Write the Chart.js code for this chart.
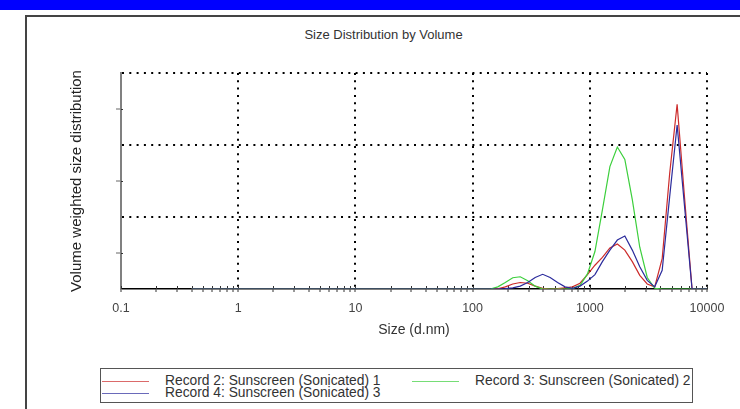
<!DOCTYPE html>
<html><head><meta charset="utf-8">
<script src="https://cdn.jsdelivr.net/npm/chart.js@4.4.0/dist/chart.umd.min.js"></script>
<style>
html,body{margin:0;padding:0;background:#fff;width:740px;height:409px;overflow:hidden;font-family:"Liberation Sans",Arial,sans-serif;}
#bar{position:absolute;left:0;top:0;width:740px;height:10px;background:#0000ff;}
#frame{position:absolute;left:25px;top:15px;width:740px;height:420px;border-left:2px solid #444;border-top:2px solid #444;}
#title{position:absolute;left:27px;width:713px;top:27px;text-align:center;font-size:13px;line-height:16px;color:#333;}
#c{position:absolute;left:0;top:0;}
#legend{position:absolute;left:100px;top:368px;width:591px;height:33px;border:1px solid #555;background:#fff;}
.li{position:absolute;height:14px;}
.ls{position:absolute;left:0;top:7px;width:47px;height:1px;}
.lt{position:absolute;top:0;font-size:13.8px;line-height:14px;color:#333;white-space:nowrap;}
</style></head>
<body>
<div id="bar"></div>
<div id="frame"></div>
<div id="title">Size Distribution by Volume</div>
<canvas id="c" width="740" height="409"></canvas>
<div id="legend"></div>
<script>
// ---- data ----
const sizes = [0.4,0.4632,0.5365,0.6213,0.7195,0.8332,0.9649,1.117,1.294,1.499,1.736,2.01,2.328,2.696,3.122,3.615,4.187,4.849,5.615,6.503,7.531,8.721,10.1,11.7,13.54,15.69,18.17,21.04,24.36,28.21,32.67,37.84,43.82,50.75,58.77,68.06,78.82,91.28,105.7,122.4,141.8,164.2,190.1,220.2,255,295.3,342,396.1,458.7,531.2,615.1,712.4,825,955.4,1106,1281,1484,1718,1990,2305,2669,3091,3580,4145,4801,5560,6439,7456,8635,10000];
const record2 = [0,0,0,0,0,0,0,0,0,0,0,0,0,0,0,0,0,0,0,0,0,0,0,0,0,0,0,0,0,0,0,0,0,0,0,0,0,0,0,0,0,
  0.02,0.15,0.35,0.45,0.4,0.2,0.04,0,0.02,0.08,0.15,0.4,1.0,1.65,2.2,2.85,3.12,2.7,1.9,0.95,0.35,0.15,2.1,8.0,12.83,6.3,0,0,0];
const record3 = [0,0,0,0,0,0,0,0,0,0,0,0,0,0,0,0,0,0,0,0,0,0,0,0,0,0,0,0,0,0,0,0,0,0,0,0,0,0,0,0,0,
  0.15,0.45,0.78,0.85,0.58,0.2,0,0,0,0,0.03,0.25,1.05,2.6,5.5,8.5,9.86,9.0,6.2,2.9,0.8,0.05,0,0,0,0,0,0,0];
const record4 = [0,0,0,0,0,0,0,0,0,0,0,0,0,0,0,0,0,0,0,0,0,0,0,0,0,0,0,0,0,0,0,0,0,0,0,0,0,0,0,0,0,
  0,0.02,0.08,0.2,0.45,0.8,1.02,0.8,0.45,0.15,0.05,0.2,0.55,1.0,1.9,2.7,3.4,3.68,2.7,1.55,0.6,0.15,1.3,6.4,11.39,5.7,0,0,0];
const seriesNames = ['Record 2: Sunscreen (Sonicated) 1','Record 3: Sunscreen (Sonicated) 2','Record 4: Sunscreen (Sonicated) 3'];
const seriesValues = [record2, record3, record4];
const seriesColors = ['#cc2b2b','#3ccf3c','#2b2b9c'];
const xTickValues = [0.1,1,10,100,1000,10000];
const xTickLabels = ['0.1','1','10','100','1000','10000'];
const yMajorStep = 5, yMinorStep = 2.5, yMax = 15;

// ---- derived ----
const xTicks = [];
for (let i = 0; i < xTickValues.length - 1; i++) for (let m = 1; m <= 9; m++) xTicks.push(m * xTickValues[i]);
xTicks.push(xTickValues[xTickValues.length - 1]);
const decadeIndex = v => xTickValues.findIndex(t => Math.abs(t - v) / t < 1e-9);
const isMajorY = v => Math.abs(v / yMajorStep - Math.round(v / yMajorStep)) < 1e-9;
const CLEAR = 'rgba(0,0,0,0)';

Chart.defaults.font.family = '"Liberation Sans", Arial, sans-serif';
const crossTicks = {
  id: 'crossTicks',
  beforeDatasetsDraw(chart) {
    const x = chart.scales.x, y = chart.scales.y, ctx = chart.ctx, y0 = chart.chartArea.bottom, x0 = chart.chartArea.left;
    ctx.save(); ctx.strokeStyle = '#333'; ctx.lineWidth = 1; ctx.beginPath();
    x.ticks.forEach(t => { const px = Math.round(x.getPixelForValue(t.value)) + 0.5; ctx.moveTo(px, y0 - 3); ctx.lineTo(px, y0); });
    y.ticks.forEach(t => { if (!isMajorY(t.value)) { const py = Math.round(y.getPixelForValue(t.value)) + 0.5; ctx.moveTo(x0, py); ctx.lineTo(x0 + 2, py); } });
    ctx.stroke(); ctx.restore();
  }
};

new Chart(document.getElementById('c'), {
  type: 'line',
  data: {
    datasets: seriesValues.map((vals, i) => ({
      label: seriesNames[i],
      data: sizes.map((s, k) => ({x: s, y: vals[k]})),
      borderColor: seriesColors[i], borderWidth: 1.2, pointRadius: 0, tension: 0, fill: false,
      order: [2, 1, 0][i]
    }))
  },
  options: {
    responsive: false, animation: false, devicePixelRatio: 1,
    layout: {padding: {top: 73, left: 0, right: 33, bottom: 60}},
    plugins: {legend: {display: false}, title: {display: false}, tooltip: {enabled: false}},
    scales: {
      x: {
        type: 'logarithmic', min: xTickValues[0], max: xTickValues[xTickValues.length - 1],
        afterBuildTicks: s => { s.ticks = xTicks.map(v => ({value: v})); },
        afterFit: s => { s.height = 60; s.paddingLeft = 0; s.paddingRight = 0; },
        ticks: {autoSkip: false, maxRotation: 0, padding: 9.5, color: '#444', font: {size: 12.5},
          callback: v => { const k = decadeIndex(v); return k >= 0 ? xTickLabels[k] : ''; }},
        grid: {
          color: c => { const v = c.tick ? c.tick.value : 0; return (decadeIndex(v) > 0) ? '#000' : CLEAR; },
          lineWidth: 2, tickLength: 3, tickColor: '#333', tickWidth: 1
        },
        border: {display: true, color: '#000', width: 1.5, dash: [2, 5.3]},
        title: {display: true, text: 'Size (d.nm)', color: '#333', font: {size: 14}, padding: {top: 0, bottom: 10.6}}
      },
      y: {
        type: 'linear', min: 0, max: yMax,
        ticks: {display: false, stepSize: yMinorStep},
        afterFit: s => { s.width = 121; s.paddingTop = 0; s.paddingBottom = 0; },
        grid: {
          color: c => { const v = c.tick ? c.tick.value : 0; return (v > 0 && isMajorY(v)) ? '#000' : CLEAR; },
          lineWidth: 2, tickLength: 5,
          tickColor: c => { const v = c.tick ? c.tick.value : 0; return isMajorY(v) ? CLEAR : '#666'; }, tickWidth: 1
        },
        border: {display: true, color: '#808080', width: 2, dash: [2, 5.3]},
        title: {display: true, text: 'Volume weighted size distribution', color: '#222', font: {size: 15}, padding: {top: 68, bottom: 0}}
      }
    }
  },
  plugins: [crossTicks]
});

// ---- legend (HTML, built from series arrays) ----
const legend = document.getElementById('legend');
const legendPos = [{x: 1, y: 5}, {x: 311, y: 5}, {x: 1, y: 17}];
seriesNames.forEach((name, i) => {
  const it = document.createElement('div'); it.className = 'li';
  it.style.left = legendPos[i].x + 'px'; it.style.top = legendPos[i].y + 'px';
  const sw = document.createElement('div'); sw.className = 'ls'; sw.style.background = seriesColors[i]; sw.style.opacity = 0.7;
  const tx = document.createElement('div'); tx.className = 'lt'; tx.style.left = '63px'; tx.textContent = name;
  it.appendChild(sw); it.appendChild(tx); legend.appendChild(it);
});
</script>
</body></html>
